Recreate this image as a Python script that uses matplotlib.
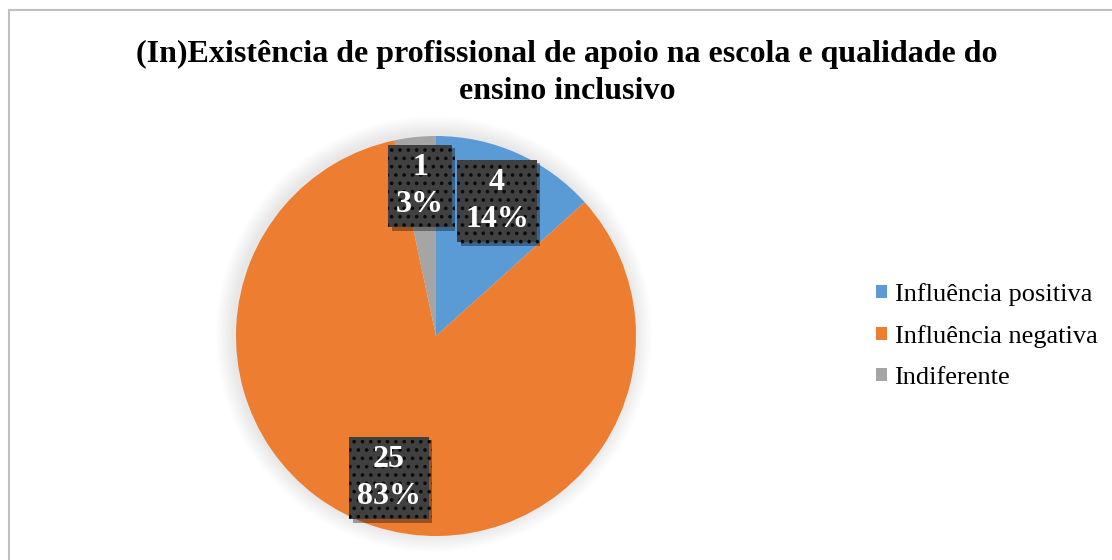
import matplotlib
matplotlib.use('Agg')
import matplotlib.pyplot as plt
import matplotlib.patheffects as pe
from matplotlib.patches import Rectangle, Circle

# data
categories = ['Influência positiva', 'Influência negativa', 'Indiferente']
counts = [4, 25, 1]
percents = [14, 83, 3]
colors = ['#5B9BD5', '#ED7D31', '#A5A5A5']
label_pos = [(0.305, 0.675), (-0.235, -0.71), (-0.08, 0.75)]

title = '(In)Existência de profissional de apoio na escola e qualidade do\nensino inclusivo'

plt.rcParams['font.family'] = ['Liberation Serif', 'DejaVu Serif']
plt.rcParams['hatch.linewidth'] = 1.4

fig = plt.figure(figsize=(11.12, 5.6), dpi=100)

# chart border (runs off the right and bottom edges)
fig.patches.append(Rectangle((9 / 1112, -0.1), 1.2, 1 - 9.5 / 560 + 0.1,
                             transform=fig.transFigure, fill=False,
                             edgecolor='#BFBFBF', linewidth=1.5))

fig.text(0.51, 0.87, title, ha='center', va='center', fontsize=23,
         fontweight='bold', linespacing=1.38)

ax = fig.add_axes([236 / 1112, 24 / 560, 400 / 1112, 400 / 560])

# soft halo behind the pie
for i in range(8):
    ax.add_patch(Circle((-0.01, 0.01), 1.0 + 0.011 * (i + 1), color='black',
                        alpha=0.013, zorder=0, linewidth=0, clip_on=False))

wedges, _ = ax.pie(counts, colors=colors, startangle=90, counterclock=False,
                   radius=1.0, wedgeprops=dict(linewidth=0))
for w in wedges:
    w.set_zorder(1)
    w.set_clip_on(False)

for (x, y), c, p in zip(label_pos, counts, percents):
    t = ax.text(x, y, f'{c}\n{p}%', ha='center', va='center', fontsize=23,
                fontweight='bold', color='white', linespacing=1.4, zorder=5,
                bbox=dict(boxstyle='square,pad=0.24', facecolor='#404040',
                          edgecolor='#0A0A0A', linewidth=0, hatch='..'))
    t.get_bbox_patch().set_path_effects([
        pe.SimplePatchShadow(offset=(2.5, -2.5), shadow_rgbFace='black', alpha=0.35),
        pe.Normal()])

ax.set_xlim(-1, 1)
ax.set_ylim(-1, 1)
ax.set_aspect('equal')
ax.axis('off')

handles = [Rectangle((0, 0), 1, 1, facecolor=c, edgecolor='none') for c in colors]
fig.legend(handles, categories, loc='center left', bbox_to_anchor=(0.766, 0.4),
           frameon=False, fontsize=19, handlelength=0.42, handleheight=0.42,
           handletextpad=0.3, labelspacing=0.72)

fig.savefig('out.png', dpi=100, facecolor='white')
